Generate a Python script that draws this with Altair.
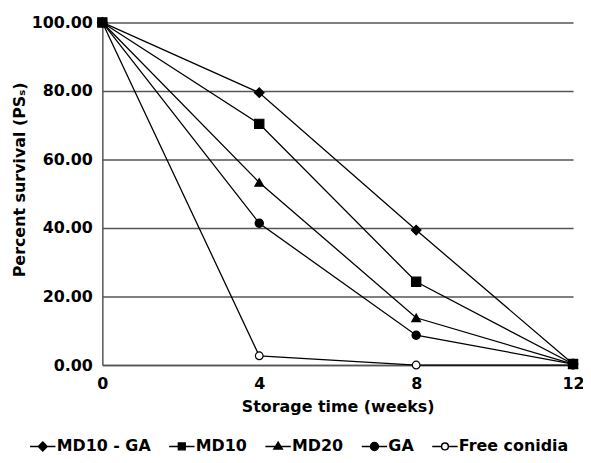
import altair as alt
import pandas as pd

series = ["MD10 - GA", "MD10", "MD20", "GA", "Free conidia"]
weeks = [0, 4, 8, 12]
md10_ga = [100.0, 79.5, 39.4, 0.3]
md10 = [100.0, 70.4, 24.3, 0.3]
md20 = [100.0, 53.3, 13.8, 0.3]
ga = [100.0, 41.4, 8.7, 0.3]
free_conidia = [100.0, 2.7, 0.0, 0.0]
y_ticks = [0, 20, 40, 60, 80, 100]
x_ticks = [0, 4, 8, 12]

values = {"MD10 - GA": md10_ga, "MD10": md10, "MD20": md20, "GA": ga, "Free conidia": free_conidia}
rows = []
# draw Free conidia first so filled markers sit on top
for s in ["Free conidia", "GA", "MD20", "MD10", "MD10 - GA"]:
    for w, v in zip(weeks, values[s]):
        rows.append({"series": s, "week": w, "ps": v})
df = pd.DataFrame(rows)

FONT = "DejaVu Sans"
GRID = "#555555"

fills = ["black", "black", "black", "black", "white"]
strokes = ["black"] * 5
shapes = ["diamond", "square", "triangle-up", "circle", "circle"]
sizes = [95, 60, 75, 60, 40]
H = 3.2
legend_paths = [
    f"M-{H},0H{H}M0,-1.1L1.1,0L0,1.1L-1.1,0Z",
    f"M-{H},0H{H}M-0.85,-0.85H0.85V0.85H-0.85Z",
    f"M-{H},0H{H}M0,-1.1L1.05,0.65L-1.05,0.65Z",
    f"M-{H},0H{H}M-1,0A1,1,0,1,0,1,0A1,1,0,1,0,-1,0Z",
    f"M-{H},0H-0.85M0.85,0H{H}M-0.85,0A0.85,0.85,0,1,0,0.85,0A0.85,0.85,0,1,0,-0.85,0Z",
]

x_enc = alt.X("week:Q", scale=alt.Scale(domain=[0, 12], nice=False),
              axis=alt.Axis(values=x_ticks, title="Storage time (weeks)", grid=False,
                            ticks=False, tickSize=0, labelPadding=11, labelFlush=False,
                            titleY=47, titleBaseline="alphabetic"))
y_enc = alt.Y("ps:Q", scale=alt.Scale(domain=[0, 100], nice=False),
              axis=alt.Axis(values=y_ticks, format=".2f", title="Percent survival (PSₛ)",
                            ticks=False, tickSize=0, labelPadding=10,
                            titleX=-83, titleY=158, titleAlign="center",
                            titleBaseline="middle", titleAngle=-90))

base = alt.Chart(df)

lines = base.mark_line(color="black", strokeWidth=1.3).encode(
    x=x_enc, y=y_enc, detail="series:N"
)

points = base.mark_point(filled=True, stroke="black", strokeWidth=1.2, opacity=1).encode(
    x=x_enc, y=y_enc,
    shape=alt.Shape("series:N", scale=alt.Scale(domain=series, range=shapes), legend=None),
    fill=alt.Fill("series:N", scale=alt.Scale(domain=series, range=fills), legend=None),
    size=alt.Size("series:N", scale=alt.Scale(domain=series, range=sizes), legend=None),
)

leg = alt.Legend(
    title=None, orient="none", legendX=-76, legendY=419, direction="horizontal",
    symbolSize=64, symbolOffset=8, labelOffset=6, columnPadding=15,
    labelFont=FONT, labelFontSize=16, labelFontWeight="bold", labelColor="black",
    symbolOpacity=1, symbolStrokeColor="black", symbolStrokeWidth=1.5,
)

legend_layer = base.mark_point(filled=True, opacity=0, strokeWidth=1.5).encode(
    x=x_enc, y=y_enc,
    shape=alt.Shape("series:N", scale=alt.Scale(domain=series, range=legend_paths), legend=leg),
    fill=alt.Fill("series:N", scale=alt.Scale(domain=series, range=fills), legend=leg),
    stroke=alt.Stroke("series:N", scale=alt.Scale(domain=series, range=strokes), legend=leg),
)

chart = alt.layer(lines, points, legend_layer).resolve_scale(
    shape="independent", fill="independent", size="independent", stroke="independent"
).properties(
    width=474, height=345,
    autosize=alt.AutoSizeParams(type="none"),
    padding={"left": 95, "top": 13, "right": 10, "bottom": 86},
).configure_view(stroke=None).configure_axis(
    domainColor=GRID, domainWidth=1.5, gridColor=GRID, gridWidth=1.5, gridOpacity=1,
    labelFont=FONT, labelFontSize=16, labelFontWeight="bold", labelColor="black",
    titleFont=FONT, titleFontSize=16, titleFontWeight="bold", titleColor="black",
)

chart.save("out.html", embed_options={"renderer": "svg", "actions": False})
